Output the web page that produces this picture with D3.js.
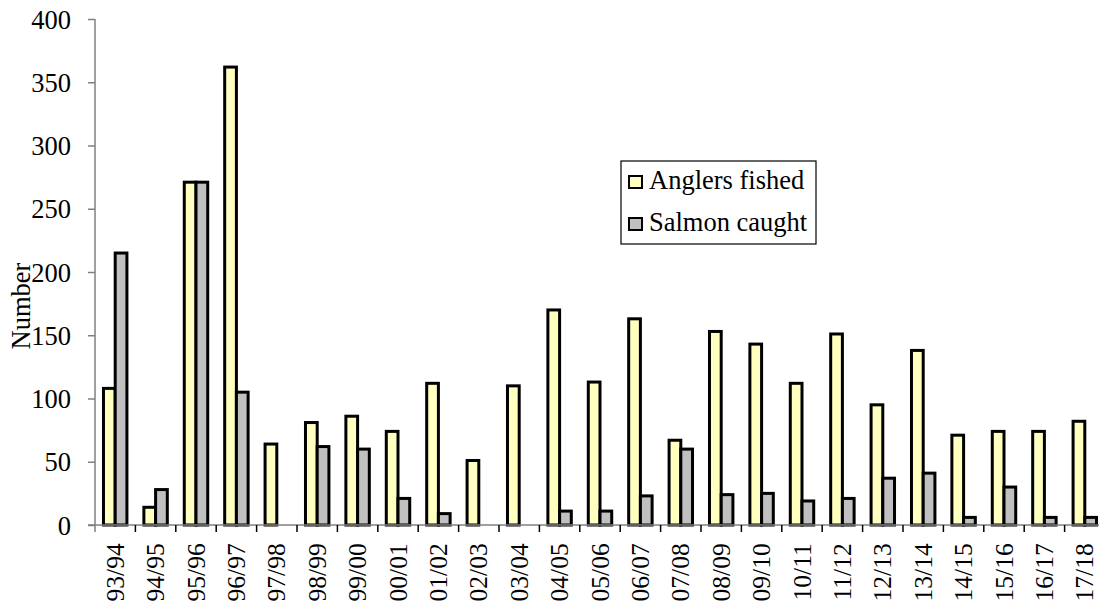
<!DOCTYPE html>
<html>
<head>
<meta charset="utf-8">
<script src="https://cdn.jsdelivr.net/npm/d3@7"></script>
<style>
  html, body { margin: 0; padding: 0; background: #fff; }
  svg { display: block; }
  svg text { font-family: "Liberation Serif", Tinos, "Times New Roman", Times, "DejaVu Serif", serif !important; fill: #000; }
</style>
</head>
<body>
<svg id="chart" width="1099" height="606"></svg>
<script>
const categories = ["93/94","94/95","95/96","96/97","97/98","98/99","99/00","00/01","01/02","02/03","03/04","04/05","05/06","06/07","07/08","08/09","09/10","10/11","11/12","12/13","13/14","14/15","15/16","16/17","17/18"];
const anglersFished = [108,14,271,362,64,81,86,74,112,51,110,170,113,163,67,153,143,112,151,95,138,71,74,74,82];
const salmonCaught = [215,28,271,105,0,62,60,21,9,0,0,11,11,23,60,24,25,19,21,37,41,6,30,6,6];
const yTicks = [0,50,100,150,200,250,300,350,400];
const seriesNames = ["Anglers fished","Salmon caught"];
const seriesColors = ["#FFFFC0","#C0C0C0"];

const svg = d3.select("#chart");
const mLeft = 95, mRight = 1105, mTop = 19, mBottom = 525;
const FONT = '"Liberation Serif", Tinos, "Times New Roman", Times, "DejaVu Serif", serif';
const FS = 26.5, FSX = 25.5;

const x = d3.scaleBand().domain(categories).range([mLeft, mRight]).padding(0);
const y = d3.scaleLinear().domain([0, 400]).range([mBottom, mTop]);
const bw = x.bandwidth() * 0.29;

// Bars
const series = [anglersFished, salmonCaught];
series.forEach((vals, si) => {
  svg.append("g").selectAll("rect")
    .data(categories.map((c, i) => ({c, v: vals[i]})).filter(d => d.v > 0))
    .join("rect")
    .attr("x", d => x(d.c) + x.bandwidth() / 2 - bw + si * bw)
    .attr("y", d => y(d.v))
    .attr("width", bw)
    .attr("height", d => y(0) - y(d.v))
    .attr("fill", seriesColors[si])
    .attr("stroke", "#000")
    .attr("stroke-width", 3);
});

// Y axis
const yAxis = svg.append("g").attr("transform", `translate(${mLeft},0)`)
  .call(d3.axisLeft(y).tickValues(yTicks).tickSize(7).tickPadding(9).tickSizeOuter(0));
yAxis.attr("font-family", FONT).attr("font-size", FS);
yAxis.select(".domain").attr("stroke", "#808080").attr("stroke-width", 1.5)
  .attr("d", `M0,${mTop}V${mBottom + 7}`);
yAxis.selectAll(".tick line").attr("stroke", "#808080").attr("stroke-width", 1.5);
yAxis.selectAll(".tick text").attr("fill", "#000")
  .attr("x", -24).attr("dy", "0.34em");

// X axis
const xAxis = svg.append("g").attr("transform", `translate(0,${mBottom})`)
  .call(d3.axisBottom(x).tickSize(0).tickSizeOuter(0));
xAxis.attr("font-family", FONT).attr("font-size", FSX);
xAxis.select(".domain").attr("stroke", "#808080").attr("stroke-width", 1.5)
  .attr("d", `M${mLeft - 7},0H${mRight}`);
xAxis.selectAll(".tick line").remove();
xAxis.selectAll(".tick text")
  .attr("fill", "#000")
  .attr("transform", "rotate(-90)")
  .attr("x", -18.3).attr("y", 0).attr("dy", "0.34em")
  .style("text-anchor", "end");
// boundary ticks
xAxis.append("g").selectAll("line")
  .data(categories.slice(1))
  .join("line")
  .attr("x1", d => x(d)).attr("x2", d => x(d))
  .attr("y1", 0).attr("y2", 7)
  .attr("stroke", "#000").attr("stroke-width", 1.5);

// Y label
svg.append("text")
  .attr("transform", "translate(29.5,306) rotate(-90)")
  .attr("text-anchor", "middle")
  .attr("font-family", FONT)
  .attr("font-size", FS)
  .text("Number");

// Legend
const lg = svg.append("g").attr("transform", "translate(621,161)");
lg.append("rect").attr("width", 195).attr("height", 83)
  .attr("fill", "#fff").attr("stroke", "#000").attr("stroke-width", 1.2);
seriesNames.forEach((name, i) => {
  const yy = 15 + i * 42;
  lg.append("rect").attr("x", 8).attr("y", yy).attr("width", 13).attr("height", 12)
    .attr("fill", seriesColors[i]).attr("stroke", "#000").attr("stroke-width", 2);
  lg.append("text")
    .attr("x", 28).attr("y", yy + 13.3)
    .attr("font-family", FONT)
    .attr("font-size", FS).text(name);
});
</script>
</body>
</html>
